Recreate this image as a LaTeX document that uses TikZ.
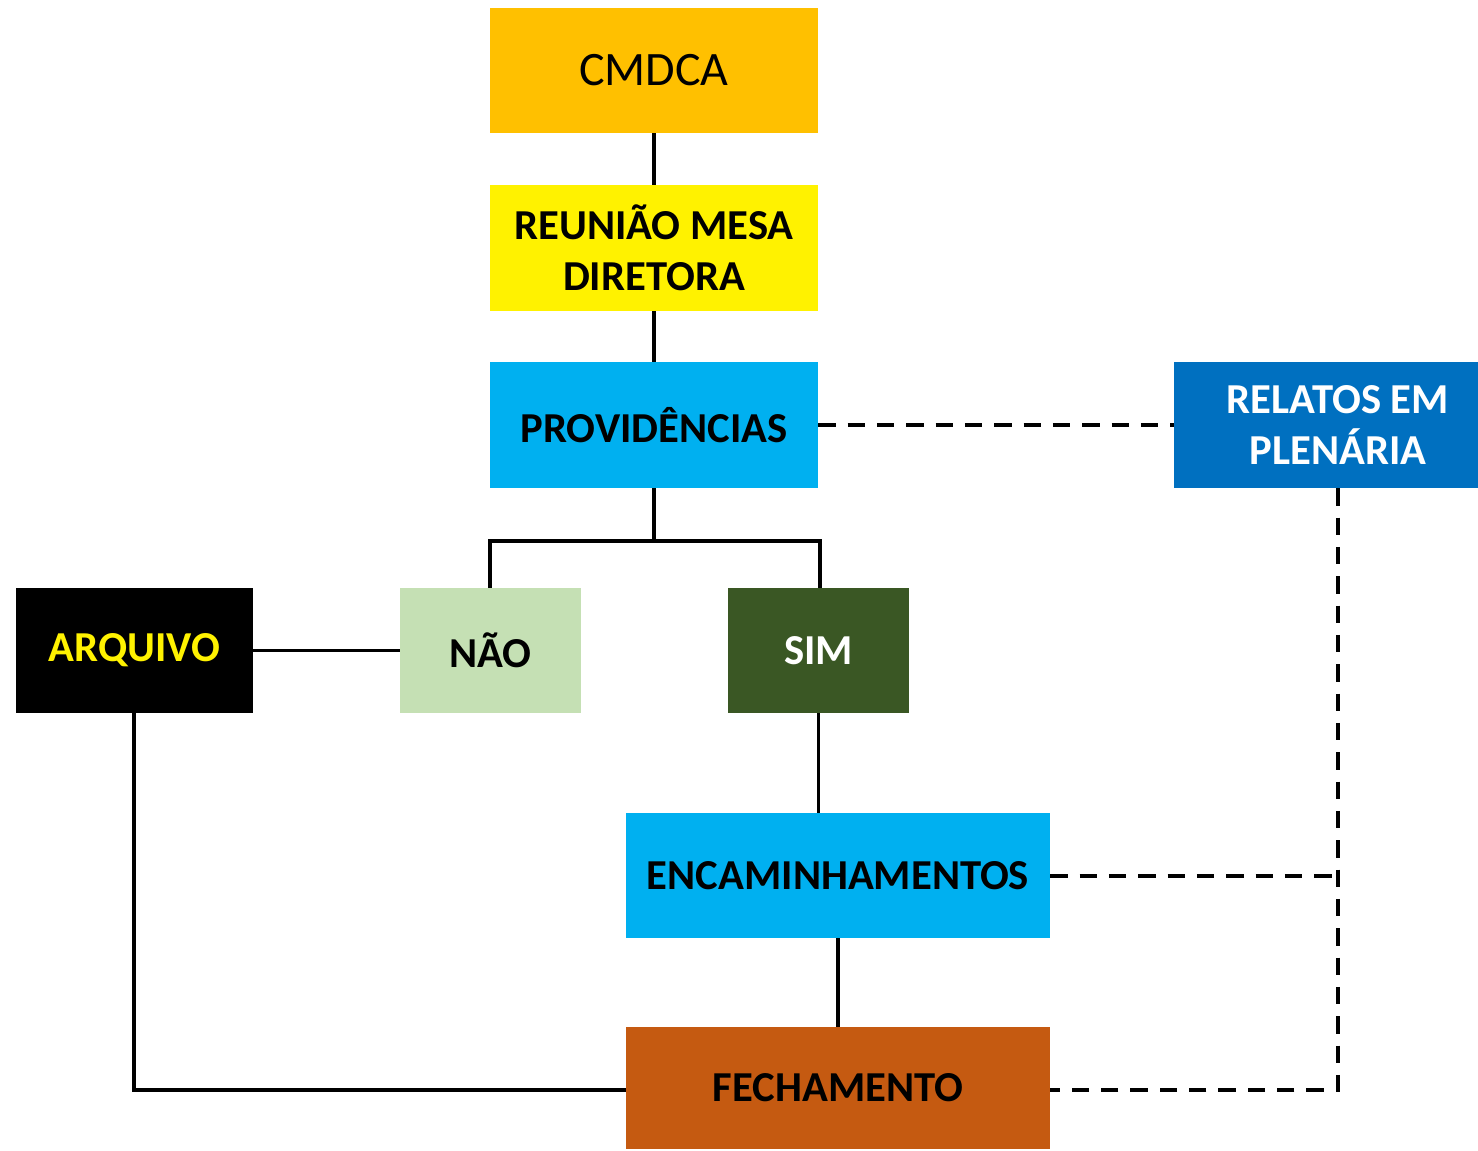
\documentclass[tikz,border=0pt]{standalone}
\usepackage{fontspec}
\setmainfont{Carlito}
\usetikzlibrary{positioning}

\definecolor{cmdcaorange}{HTML}{FFC000}
\definecolor{provblue}{HTML}{00B0F0}
\definecolor{relblue}{HTML}{0070C0}
\definecolor{naogreen}{HTML}{C5E0B4}
\definecolor{simgreen}{HTML}{3A5724}
\definecolor{fechbrown}{HTML}{C55A11}

\tikzset{
  blockbox/.style={inner sep=0pt, align=center, font=\fontsize{32}{38.5}\selectfont\bfseries},
  link/.style={line width=2.9pt},
  dashlink/.style={line width=2.9pt, dash pattern=on 13pt off 9pt}
}

\begin{document}
\begin{tikzpicture}[x=0.75pt,y=-0.75pt]
          \useasboundingbox[fill=white] (0,0) rectangle (1478,1150);

          \node (cmdca) [blockbox, fill=cmdcaorange, minimum width=246pt, minimum height=93.75pt,
                         font=\fontsize{36}{42}\selectfont] at (654,70.5) {CMDCA};
          \node (reun)  [blockbox, fill=yellow, minimum width=246pt, minimum height=94.5pt] at (654,248) {REUNIÃO MESA\\DIRETORA};
          \node (prov)  [blockbox, fill=provblue, minimum width=246pt, minimum height=94.5pt] at (654,425) {PROVIDÊNCIAS};
          \node (rel)   [blockbox, fill=relblue, text=white, minimum width=246pt, minimum height=94.5pt] at (1338,425) {RELATOS EM\\PLENÁRIA};
          \node (arq)   [blockbox, fill=black, text=yellow, minimum width=177.75pt, minimum height=93.75pt] at (134.5,650.5) {ARQUIVO};
          \node (nao)   [blockbox, fill=naogreen, minimum width=135.75pt, minimum height=93.75pt] at (490.5,650.5) {NÃO};
          \node (sim)   [blockbox, fill=simgreen, text=white, minimum width=135.75pt, minimum height=93.75pt] at (818.5,650.5) {SIM};
          \node (enc)   [blockbox, fill=provblue, minimum width=318pt, minimum height=93.75pt] at (838,875.5) {ENCAMINHAMENTOS};
          \node (fech)  [blockbox, fill=fechbrown, minimum width=318pt, minimum height=91.5pt] at (838,1088) {FECHAMENTO};

          \coordinate (bus)  at (654,541);
          \coordinate (busl) at (490,541);
          \coordinate (busr) at (820,541);
          \coordinate (arqc) at (134,1090);
          \coordinate (relc) at (1338,1090);
          \coordinate (encc) at (1338,876);

          \draw [link, line width=3.6pt] (cmdca) -- (reun);
          \draw [link, line width=3.6pt] (reun) -- (prov);
          \draw [link] (prov) -- (bus);
          \draw [link] (busl |- nao.north) -- (busl) -- (busr) -- (busr |- sim.north);
          \draw [link] (arq) -- (nao);
          \draw [link] (sim.south) -- (sim.south |- enc.north);
          \draw [link] (enc) -- (fech);
          \draw [link] (arq.south -| arqc) -- (arqc) -- (fech.west |- arqc);
          \draw [dashlink] (prov) -- (rel);
          \draw [dashlink] (rel.south) -- (relc) -- (fech.east |- relc);
          \draw [dashlink] (enc.east |- encc) -- (encc);
        \end{tikzpicture}
\end{document}
